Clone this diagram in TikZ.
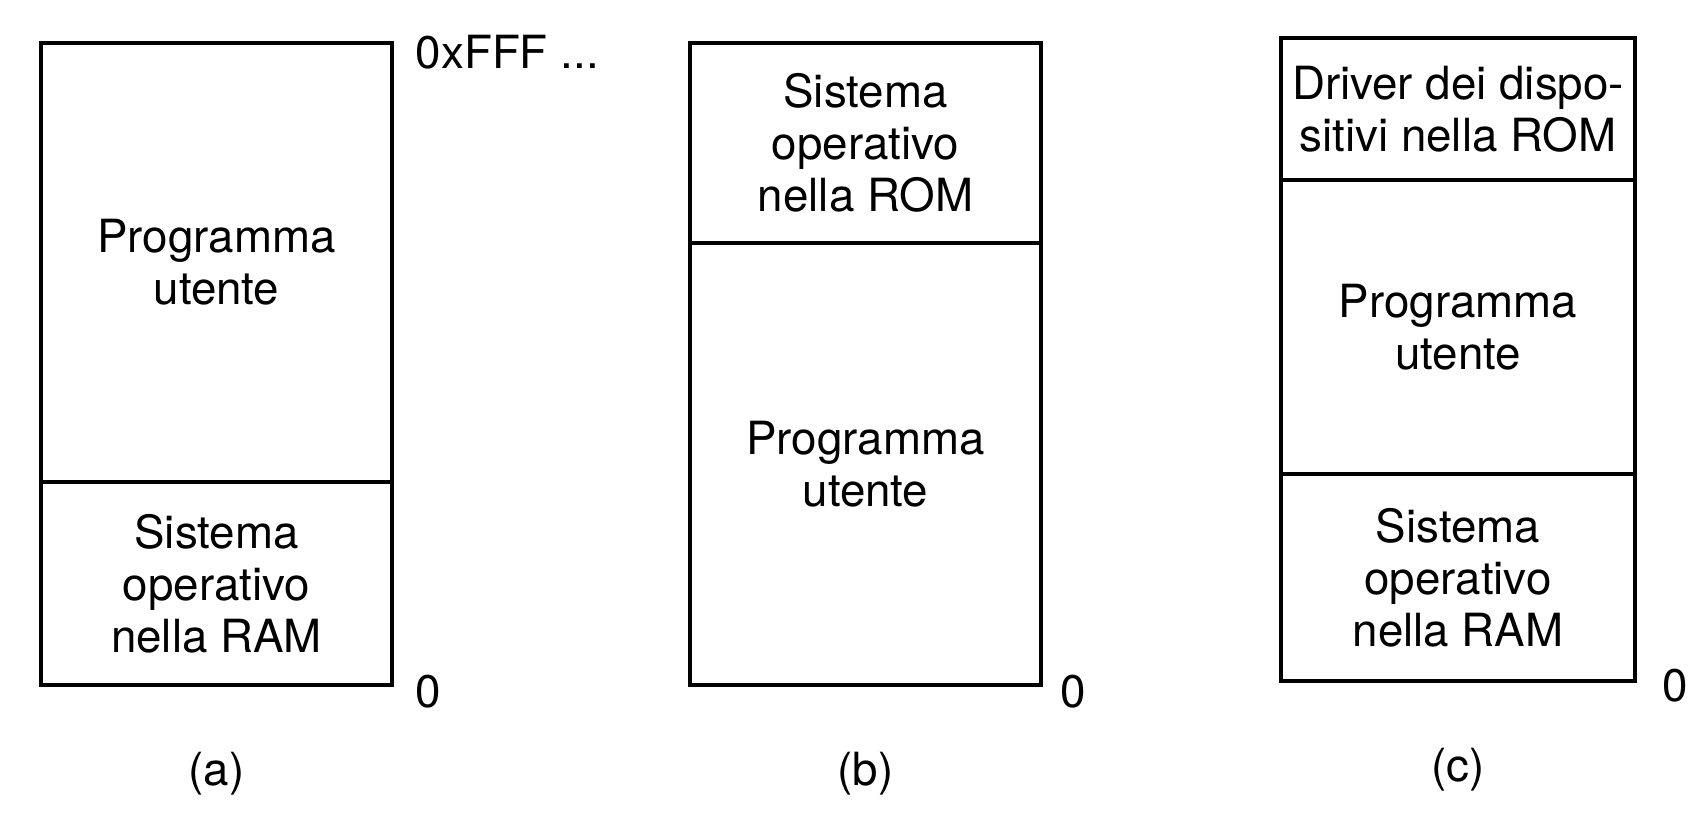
\documentclass[tikz,border=0pt]{standalone}
\usepackage{fontspec}
\setmainfont{TeX Gyre Heros}
\usetikzlibrary{positioning}
\tikzset{
    every node/.style={
        font=\fontsize{13}{14.8}\selectfont
    },
    region/.style={
        shape=rectangle,
        draw,
        line width=1.1pt,
        inner sep=0pt,
        outer sep=0pt,
        align=center,
        minimum width=3.51cm
    },
    addr/.style={inner sep=0pt, anchor=west},
    tag/.style={inner sep=0pt}
}

\begin{document}
\begin{tikzpicture}[x=0.01cm, y=-0.01cm]
	\useasboundingbox (0,0) rectangle (1700,820);
	
	% (a)
	\node (pua) at (216.5, 262.5) [region, minimum height=4.39cm] {Programma\\utente};
	\node (osa) [region, below=0pt of pua, minimum height=2.03cm] {Sistema\\operativo\\nella RAM};
	\node (top) [addr, right=2.3mm of pua.north east, yshift=-0.9mm] {0xFFF ...};
	\node (za) [addr, right=2.3mm of osa.south east, yshift=-0.6mm] {0};
	\node (ca) [tag, below=6.6mm of osa] {(a)};
	
	% (b)
	\node (osb) at (865.5, 143) [region, minimum height=2cm] {Sistema\\operativo\\nella ROM};
	\node (pub) [region, below=0pt of osb, minimum height=4.42cm] {Programma\\utente};
	\node (zb) [addr, right=1.9mm of pub.south east, yshift=-0.6mm] {0};
	\node (cb) [tag, below=6.6mm of pub] {(b)};
	
	% (c)
	\node (drc) at (1458, 109) [region, minimum width=3.54cm, minimum height=1.42cm] {Driver dei dispo-\\sitivi nella ROM};
	\node (puc) [region, below=0pt of drc, minimum width=3.54cm, minimum height=2.94cm] {Programma\\utente};
	\node (osc) [region, below=0pt of puc, minimum width=3.54cm, minimum height=2.07cm] {Sistema\\operativo\\nella RAM};
	\node (zc) [addr, right=2.7mm of osc.south east, yshift=-0.4mm] {0};
	\node (cc) [tag, below=6.6mm of osc] {(c)};
\end{tikzpicture}
\end{document}
